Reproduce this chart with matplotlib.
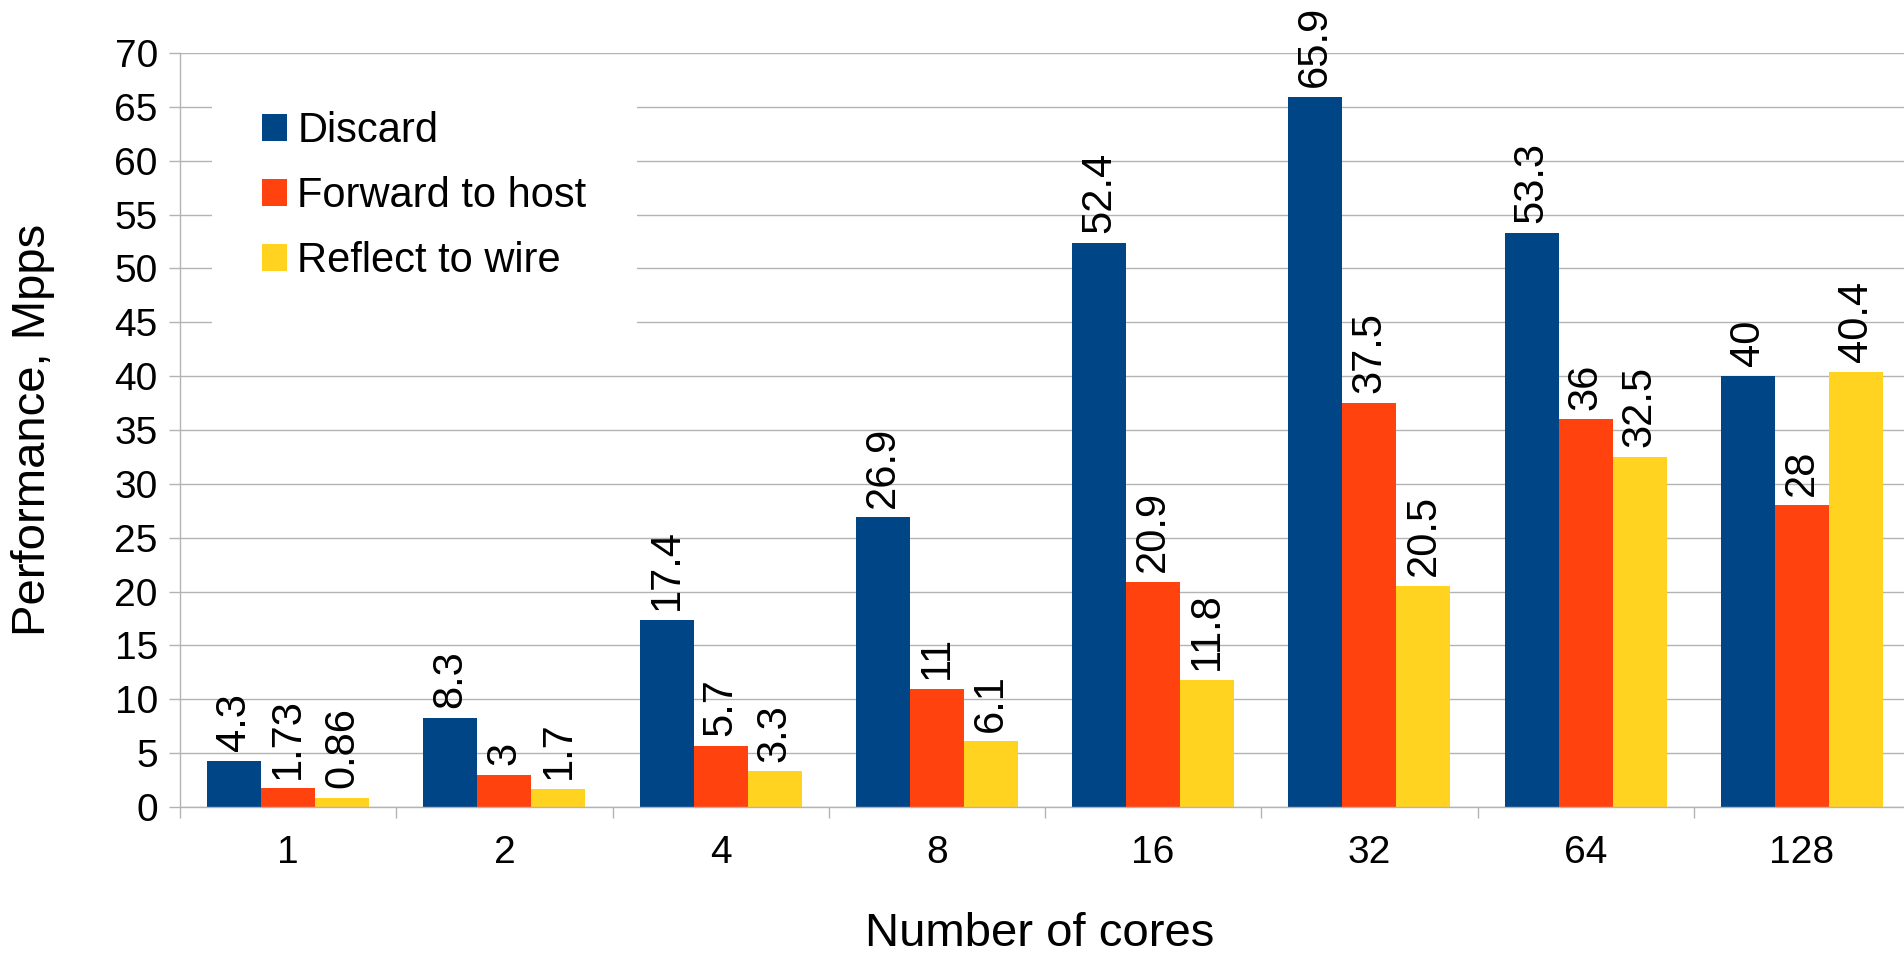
import numpy as np
import matplotlib
matplotlib.use("Agg")
import matplotlib.pyplot as plt

plt.rcParams['font.family'] = ['Liberation Sans', 'DejaVu Sans']

# throughput per core count, Mpps
cores = ['1', '2', '4', '8', '16', '32', '64', '128']
discard = [4.3, 8.3, 17.4, 26.9, 52.4, 65.9, 53.3, 40]
forward_to_host = [1.73, 3, 5.7, 11, 20.9, 37.5, 36, 28]
reflect_to_wire = [0.86, 1.7, 3.3, 6.1, 11.8, 20.5, 32.5, 40.4]

series_names = ['Discard', 'Forward to host', 'Reflect to wire']
colors = ['#004586', '#ff420e', '#ffd320']
grid_color = '#b3b3b3'

W, H = 1904, 957
fig = plt.figure(figsize=(W / 100, H / 100), dpi=100)
ax = fig.add_axes([180 / W, 1 - 807 / H, 1730 / W, (807 - 53) / H])

x = np.arange(len(cores))
bw = 0.25
for i, (vals, name, col) in enumerate(zip([discard, forward_to_host, reflect_to_wire], series_names, colors)):
    pos = x + (i - 1) * bw
    ax.bar(pos, vals, width=bw, color=col, label=name, zorder=2)
    for px, v in zip(pos, vals):
        ax.annotate(f"{v:g}", (px, v), xytext=(0, 7), textcoords='offset points',
                    rotation=90, ha='center', va='bottom', fontsize=30, clip_on=False)

ax.set_xlim(-0.5, len(cores) - 0.5)
ax.set_ylim(0, 70)
ax.set_yticks(np.arange(0, 71, 5))
ax.set_xticks(x)
ax.set_xticklabels(cores)
ax.set_xticks(np.arange(-0.5, len(cores), 1), minor=True)

ax.grid(axis='y', color=grid_color, linewidth=1.0, zorder=0)
ax.set_axisbelow(True)
for s in ['top', 'right']:
    ax.spines[s].set_visible(False)
for s in ['left', 'bottom']:
    ax.spines[s].set_color(grid_color)
    ax.spines[s].set_linewidth(1.0)

ax.tick_params(axis='y', labelsize=28, length=8, width=1.0, color=grid_color, pad=8)
ax.tick_params(axis='x', which='major', labelsize=28, length=0, pad=20)
ax.tick_params(axis='x', which='minor', length=8, width=1.0, color=grid_color)

fig.text(33 / W, 1 - 430 / H, 'Performance, Mpps', rotation=90, ha='center', va='center', fontsize=34)
fig.text(1040 / W, 1 - 946 / H, 'Number of cores', ha='center', va='baseline', fontsize=34)

leg = ax.legend(loc='upper left', bbox_to_anchor=(212 / W, 1 - 61 / H), bbox_transform=fig.transFigure,
                fontsize=30, frameon=True, fancybox=False, framealpha=1, edgecolor='none',
                facecolor='white', borderpad=1.2, borderaxespad=0, handlelength=0.6,
                handleheight=0.6, handletextpad=0.25, labelspacing=0.6)

fig.savefig('out.png', dpi=100)
